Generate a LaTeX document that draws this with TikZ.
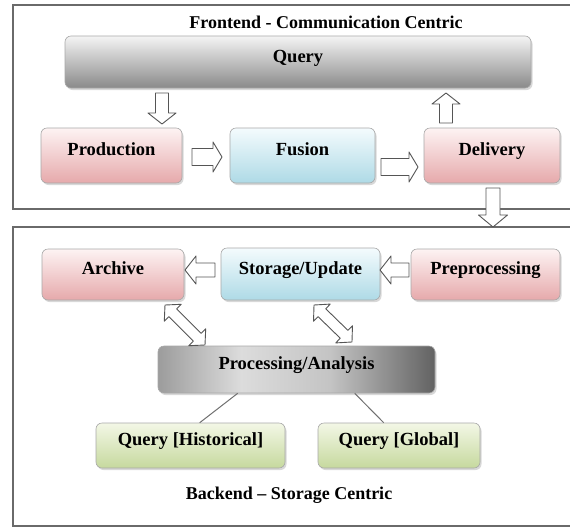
\documentclass[tikz,border=0pt]{standalone}
\usepackage{fontspec}
\setmainfont{Liberation Serif}
\usetikzlibrary{calc,shadows}

\definecolor{pinkTop}{HTML}{FDF3F3}
\definecolor{pinkBot}{HTML}{E6A9AB}
\definecolor{blueTop}{HTML}{F4FBFD}
\definecolor{blueBot}{HTML}{AEDAE6}
\definecolor{greenTop}{HTML}{F3F7E6}
\definecolor{greenBot}{HTML}{C6D99E}
\definecolor{queryTop}{HTML}{F4F4F4}
\definecolor{queryBot}{HTML}{8A8A8A}
\definecolor{boxEdge}{HTML}{A8A8A8}
\definecolor{frameGray}{HTML}{6A6A6A}
\definecolor{arrowGray}{HTML}{555555}
\definecolor{linkGray}{HTML}{707070}
\definecolor{procA}{HTML}{9C9C9C}
\definecolor{procB}{HTML}{DCDCDC}
\definecolor{procC}{HTML}{C4C4C4}
\definecolor{procD}{HTML}{626262}

% grey bar of the analysis box: dark edges, light band left of centre
\pgfdeclarehorizontalshading{procshade}{100bp}{%
  color(0bp)=(procA); color(25bp)=(procA); color(40bp)=(procB);
  color(56bp)=(procC); color(75bp)=(procD); color(100bp)=(procD)}

% hollow block arrow: from, to, shaft half width, head half width, head length
\newcommand\blockarrow[5]{%
  \path[blockline] let \p1=(#1), \p2=(#2),
    \n1={atan2(\y2-\y1,\x2-\x1)}, \n2={veclen(\x2-\x1,\y2-\y1)} in
    [shift={(\p1)}, rotate=\n1]
    (0pt,-#3) -- (\n2-#5,-#3) -- (\n2-#5,-#4) -- (\n2,0pt)
    -- (\n2-#5,#4) -- (\n2-#5,#3) -- (0pt,#3) -- cycle;}

% hollow block arrow with a head at both ends
\newcommand\twinarrow[5]{%
  \path[blockline] let \p1=(#1), \p2=(#2),
    \n1={atan2(\y2-\y1,\x2-\x1)}, \n2={veclen(\x2-\x1,\y2-\y1)} in
    [shift={(\p1)}, rotate=\n1]
    (0pt,0pt) -- (#5,#4) -- (#5,#3) -- (\n2-#5,#3) -- (\n2-#5,#4)
    -- (\n2,0pt) -- (\n2-#5,-#4) -- (\n2-#5,-#3) -- (#5,-#3)
    -- (#5,-#4) -- cycle;}

\begin{document}
\begin{tikzpicture}[x=1pt,y=1pt,
  blockline/.style={draw=arrowGray, fill=white, line width=0.9pt, line join=round},
  frame/.style={draw=frameGray, line width=1.3pt},
  title/.style={font=\fontsize{18}{20}\selectfont\bfseries, anchor=base, inner sep=0pt},
  box/.style={rectangle, rounded corners=6pt, draw=boxEdge, line width=0.6pt,
    font=\fontsize{18.5}{20}\selectfont\bfseries, text height=11pt, text depth=11pt,
    inner sep=0pt,
    drop shadow={shadow xshift=1.5pt, shadow yshift=-2pt, opacity=0.3, fill=gray}},
  pinkbox/.style={box, top color=pinkTop, bottom color=pinkBot},
  bluebox/.style={box, top color=blueTop, bottom color=blueBot},
  greenbox/.style={box, top color=greenTop, bottom color=greenBot},
  graybox/.style={box, top color=queryTop, bottom color=queryBot},
  procbox/.style={box, shading=procshade},
  link/.style={draw=linkGray, line width=1pt}]

\useasboundingbox (0,0) rectangle (570,-528);
\fill[white] (0,0) rectangle (570,-528);

% frames of the two halves
\draw[frame] (570,-5) -- (13,-5) -- (13,-209) -- (570,-209);
\draw[frame] (570,-227) -- (13,-227) -- (13,-526) -- (570,-526);

\node[title] (ftitle) at (326,-28) {Frontend - Communication Centric};
\node[title] (btitle) at (289,-499) {Backend -- Storage Centric};

% frontend boxes
\node[graybox, minimum width=466pt, minimum height=52pt] (query) at (298,-62) {Query};
\node[pinkbox, minimum width=141pt, minimum height=55pt] (prod) at (111.5,-155.5) {Production};
\node[bluebox, minimum width=145pt, minimum height=55pt] (fus) at (302.5,-155.5) {Fusion};
\node[pinkbox, minimum width=136pt, minimum height=55pt] (deliv) at (492,-155.5) {Delivery};

% backend boxes
\node[pinkbox, minimum width=142pt, minimum height=51pt] (arch) at (113,-274.5) {Archive};
\node[bluebox, minimum width=159pt, minimum height=52pt] (store) at (300.5,-274) {Storage/Update};
\node[pinkbox, minimum width=149pt, minimum height=51pt] (prep) at (485.5,-274.5) {Preprocessing};
\node[procbox, minimum width=277pt, minimum height=47pt] (proc) at (296.5,-369.5) {Processing/Analysis};
\node[greenbox, minimum width=189pt, minimum height=45pt] (qhist) at (190.5,-445.5) {Query [Historical]};
\node[greenbox, minimum width=162pt, minimum height=45pt] (qglob) at (399,-445.5) {Query [Global]};

% arrow end points, taken from the boxes they join
\coordinate (qpA) at (162,-93);   \coordinate (qpB) at (162,-124);
\coordinate (pfA) at (192,-157);  \coordinate (pfB) at (222,-157);
\coordinate (fdA) at (381,-167);  \coordinate (fdB) at (418,-167);
\coordinate (dqA) at (446,-123);  \coordinate (dqB) at (446,-93);
\coordinate (dpA) at (493,-188);  \coordinate (dpB) at (493,-227);
\coordinate (psA) at (409,-270);  \coordinate (psB) at (380,-270);
\coordinate (saA) at (215,-270);  \coordinate (saB) at (185,-270);
\coordinate (apA) at (165,-305);  \coordinate (apB) at (205,-345);
\coordinate (spA) at (314,-305);  \coordinate (spB) at (352,-342);

\blockarrow{qpA}{qpB}{6.5pt}{14pt}{11pt}
\blockarrow{pfA}{pfB}{8.5pt}{15pt}{9pt}
\blockarrow{fdA}{fdB}{8.5pt}{15pt}{9pt}
\blockarrow{dqA}{dqB}{6.5pt}{14pt}{11pt}
\blockarrow{dpA}{dpB}{7pt}{14.5pt}{12pt}
\blockarrow{psA}{psB}{7pt}{14pt}{11pt}
\blockarrow{saA}{saB}{7pt}{14pt}{11pt}
\twinarrow{apA}{apB}{5.5pt}{12pt}{11pt}
\twinarrow{spA}{spB}{5.5pt}{12pt}{11pt}

% thin links from the analysis box to the two queries
\draw[link] ($(proc.south west)+(80,0)$) -- ($(qhist.north west)+(104,0)$);
\draw[link] ($(proc.south west)+(197,0)$) -- ($(qglob.north west)+(66,0)$);
\end{tikzpicture}
\end{document}
